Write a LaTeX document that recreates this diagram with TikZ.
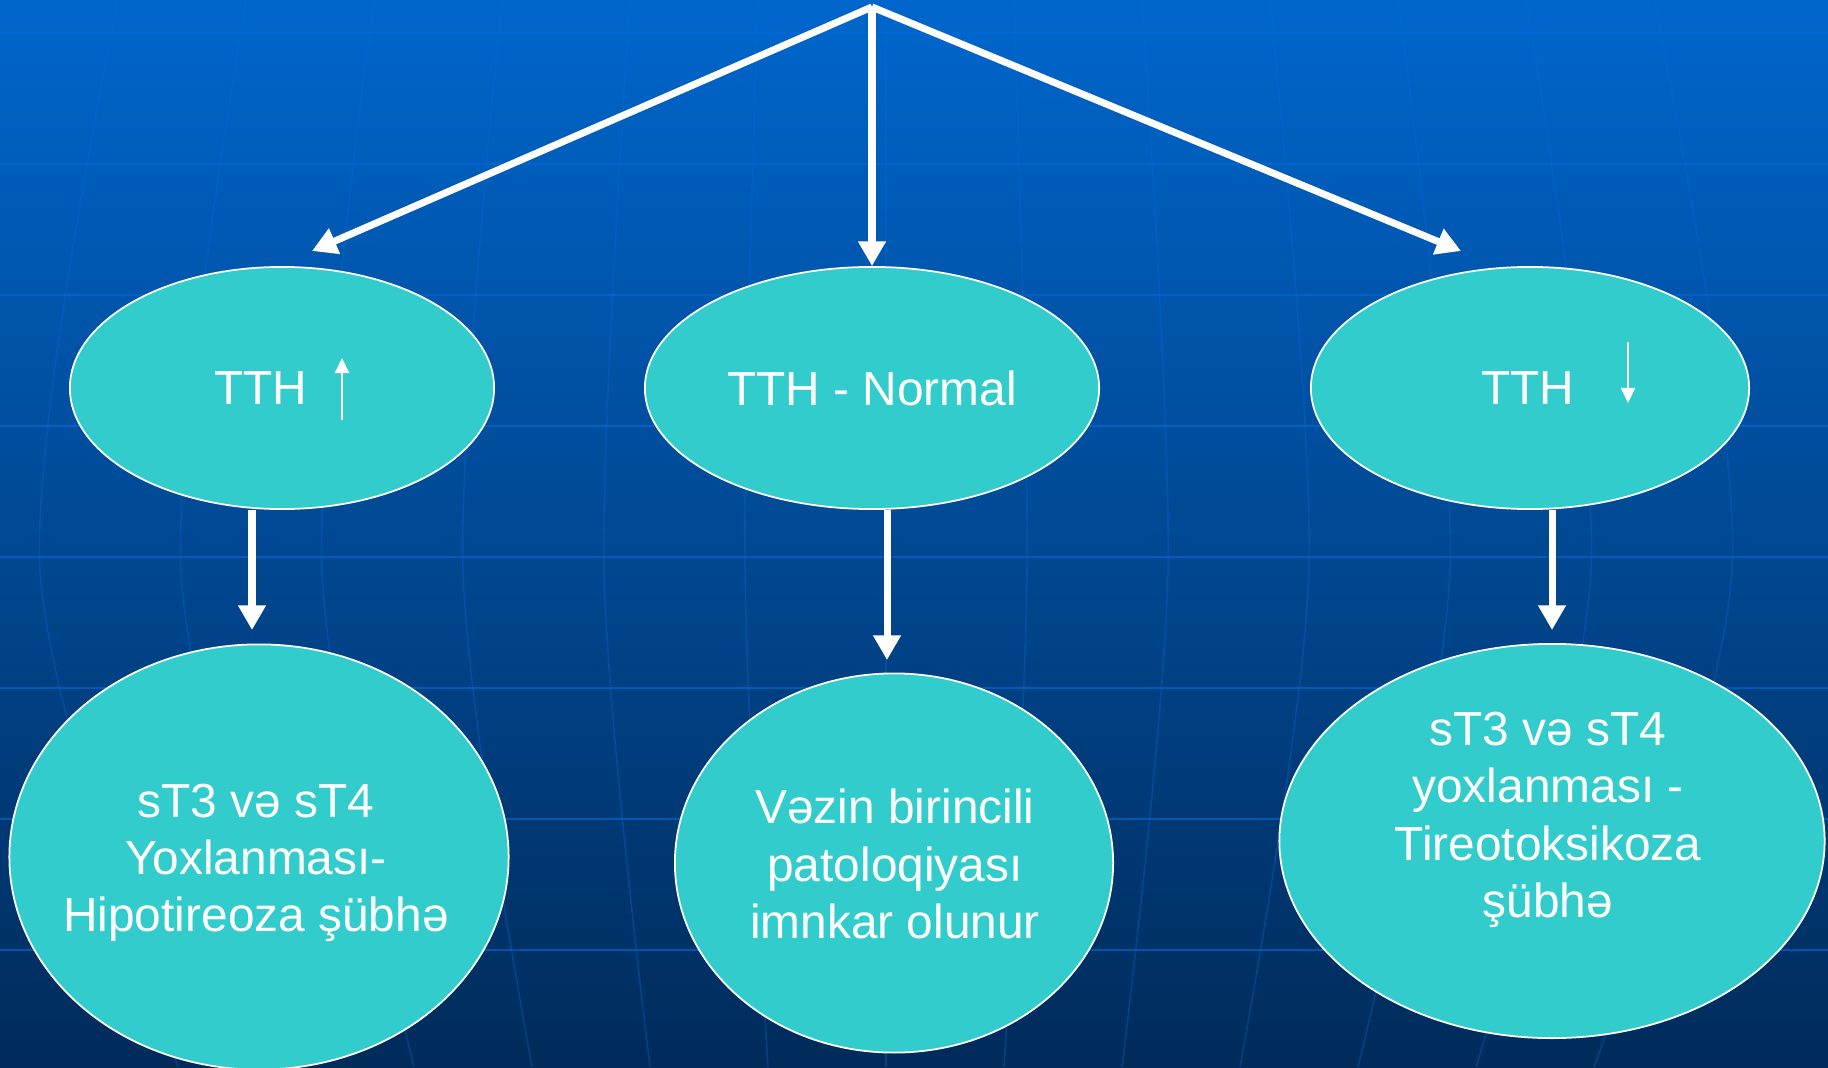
\documentclass[tikz,border=0pt]{standalone}
\usepackage{fontspec}
\setmainfont{Liberation Sans}
\usetikzlibrary{shapes.geometric,arrows.meta}
\definecolor{bgtop}{RGB}{0,102,204}
\definecolor{bgmid}{RGB}{0,77,152}
\definecolor{bgbot}{RGB}{0,43,90}
\definecolor{gridblue}{RGB}{0,108,220}
\definecolor{tealfill}{RGB}{51,204,204}

\begin{document}
\begin{tikzpicture}
		[x=0.01cm,y=-0.01cm,every node/.style={text=white,font=\fontsize{13.6}{16.3}\selectfont},
		oval/.style={shape=ellipse,draw=white,line width=0.5pt,fill=tealfill,inner sep=0pt},
		label/.style={align=center,inner sep=0pt},
		bigarrow/.style={draw=white,line width=2pt,-{Triangle[length=7pt,width=7.5pt]}},
		smallarrow/.style={draw=white,line width=0.6pt,-{Triangle[length=4.3pt,width=4pt]}}]
		\useasboundingbox (0,0) rectangle (1828,1067);
		%background with grid
		\shade[top color=bgtop,middle color=bgmid,bottom color=bgbot] (0,0) rectangle (1828,1067);
		\begin{scope}
		\clip (0,0) rectangle (1828,1067);
		\foreach \k in {-6,...,6}
		\draw[gridblue,opacity=0.35,line width=0.45pt] plot[smooth] coordinates {({886+128*\k},0) ({886+141*\k},570) ({886+118*\k},1067)};
		\foreach \k in {0,...,7}
		\draw[gridblue,opacity=0.6,line width=0.6pt] (0,{33+131*\k}) -- (1828,{33+131*\k});
		\end{scope}
		
		\node[oval,minimum width=4.24cm,minimum height=2.42cm] (tl) at (282,388) {};
		\node[oval,minimum width=4.54cm,minimum height=2.42cm] (tm) at (872,388) {TTH - Normal};
		\node[oval,minimum width=4.38cm,minimum height=2.42cm] (tr) at (1530,388) {};
		\node[label] (tlt) at (261,388) {TTH};
		\node[label] (trt) at (1528,388) {TTH};
		
		\node[oval,minimum width=4.99cm,minimum height=4.25cm] (bl) at (259,857) {};
		\node[oval,minimum width=4.38cm,minimum height=3.79cm] (bm) at (894,863) {};
		\node[oval,minimum width=5.45cm,minimum height=3.94cm] (br) at (1552,841) {};
		\node[label] (blt) at (256,863) {sT3 və sT4\\Yoxlanması-\\Hipotireoza şübhə};
		\node[label] (bmt) at (895,864) {Vəzin birincili\\patoloqiyası\\imnkar olunur};
		\node[label] (brt) at (1548,820) {sT3 və sT4\\yoxlanması -\\Tireotoksikoza\\şübhə};
		
		\coordinate (top) at (872,7);
		\coordinate (el) at (312,251);
		\coordinate (em) at (872,266);
		\coordinate (er) at (1461,251);
		\coordinate (dl) at (252,630);
		\coordinate (dm) at (887,660);
		\coordinate (dr) at (1552,630);
		\foreach \to in {el,em,er}
		\draw[bigarrow] (top) -- (\to);
		\foreach \from/\to in {tl/dl,tm/dm,tr/dr}
		\draw[bigarrow] (\from.south -| \to) -- (\to);
		
		%small arrows beside TTH
		\coordinate (ul1) at (342,420);
		\coordinate (ul2) at (342,358);
		\coordinate (dn1) at (1628,342);
		\coordinate (dn2) at (1628,403);
		\foreach \from/\to in {ul1/ul2,dn1/dn2}
		\draw[smallarrow] (\from) -- (\to);
	\end{tikzpicture}
\end{document}
